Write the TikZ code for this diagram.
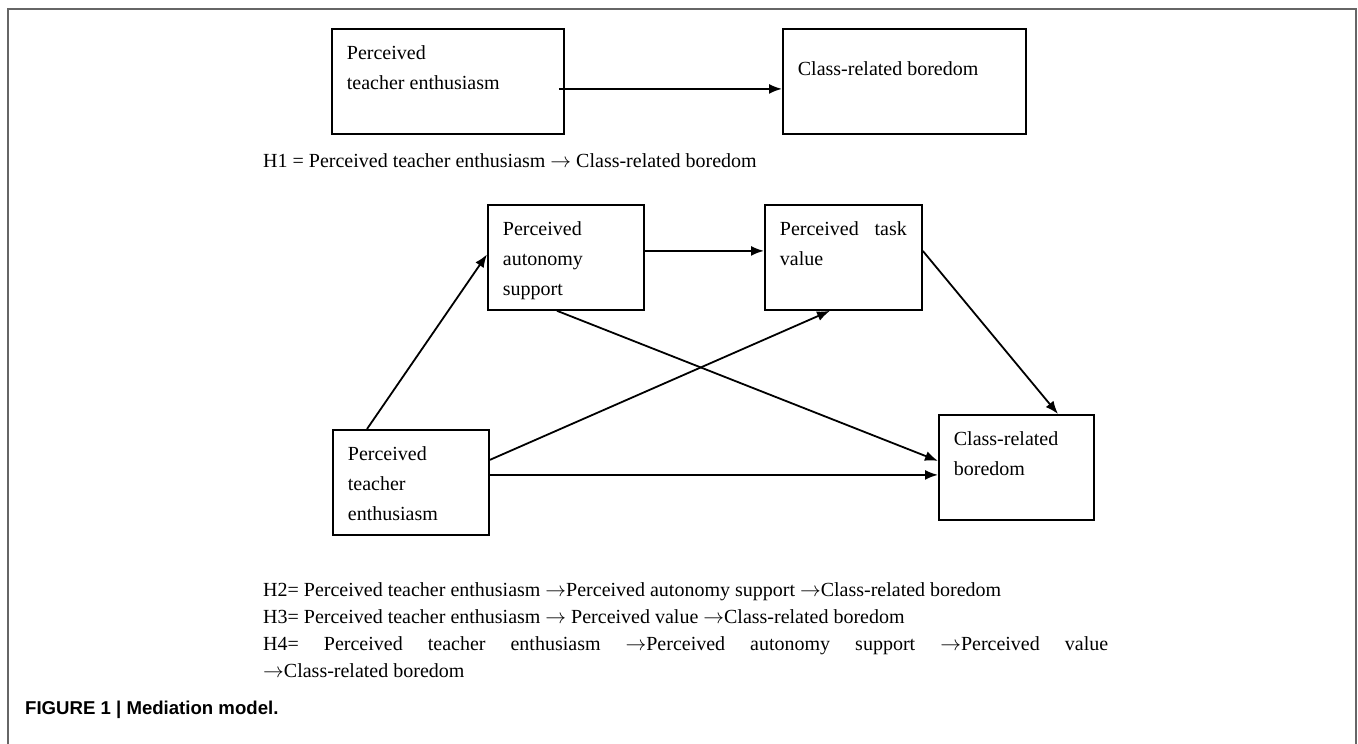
\documentclass[tikz,border=0pt]{standalone}
\usepackage{fontspec}
\setmainfont{Liberation Serif}
\newfontfamily\capfont{Liberation Sans}
\usetikzlibrary{arrows.meta}
\newcommand{\boxtxt}[2]{\parbox[c][71pt][t]{#1}{\raggedright #2}}
\newcommand{\ra}{$\rightarrow$}

\begin{document}
\begin{tikzpicture}[x=1pt, y=-1pt,
    box/.style={draw, line width=1.8pt, anchor=north west, inner xsep=15pt, inner ysep=17pt, font=\fontsize{20}{30}\selectfont},
    link/.style={-{Latex[length=13pt,width=10pt]}, line width=1.8pt},
    hyp/.style={anchor=north west, inner sep=0pt, font=\fontsize{20}{27}\selectfont}]
    \useasboundingbox (0,0) rectangle (1358,744);
    \draw[line width=2pt, black!60] (8,744) -- (8,9) -- (1356,9) -- (1356,744);

    \node[box] (tpte) at (331,28) {\boxtxt{202pt}{Perceived\\teacher enthusiasm}};
    \node[box] (tcrb) at (782,28) {\boxtxt{213pt}{\mbox{}\\Class-related boredom}};
    \draw[link] ([xshift=-6pt,yshift=-7.5pt]tpte.east) -- ([yshift=-7.5pt]tcrb.west);
    \node[hyp] (h1) at (263,153) {H1 = Perceived teacher enthusiasm \ra{} Class-related boredom};

    \node[box] (aut) at (487,204) {\boxtxt{126pt}{Perceived\\autonomy\\support}};
    \node[box] (tv) at (764,204) {\boxtxt{127pt}{Perceived\hfill task\\value}};
    \node[box] (pte) at (332,429) {\boxtxt{126pt}{Perceived\\teacher\\enthusiasm}};
    \node[box] (crb) at (938,414) {\boxtxt{125pt}{Class-related\\boredom}};

    \draw[link] ([xshift=35pt]pte.north west) -- ([yshift=3pt]aut.west);
    \draw[link] ([yshift=6.5pt]aut.east) -- ([yshift=6.5pt]tv.west);
    \draw[link] ([yshift=6.5pt]tv.east) -- ([xshift=120pt]crb.north west);
    \draw[link] ([xshift=70pt]aut.south west) -- ([yshift=6.5pt]crb.west);
    \draw[link] ([yshift=22.5pt]pte.east) -- ([xshift=66pt]tv.south west);
    \draw[link] ([yshift=7.5pt]pte.east) -- ([yshift=7.5pt]pte.east -| crb.west);

    \node[hyp, text width=845pt, align=justify] (hyps) at (263,582) {H2= Perceived teacher enthusiasm \ra Perceived autonomy support \ra Class-related boredom\\
    H3= Perceived teacher enthusiasm \ra{} Perceived value \ra Class-related boredom\\
    H4= Perceived teacher enthusiasm \ra Perceived autonomy support \ra Perceived value\linebreak
    \ra Class-related boredom};

    \node[anchor=base west, inner sep=0pt, font=\capfont\bfseries\fontsize{18.6}{22}\selectfont] (cap) at (25,714) {FIGURE 1 | Mediation model.};
\end{tikzpicture}
\end{document}
